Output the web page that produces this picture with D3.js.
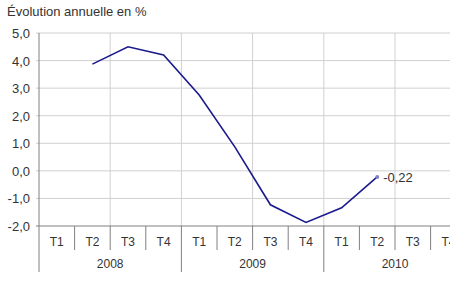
<!DOCTYPE html>
<html>
<head>
<meta charset="utf-8">
<script src="https://cdn.jsdelivr.net/npm/d3@7"></script>
<style>
  body { margin: 0; background: #fff; }
  text { font-family: "Liberation Sans", Arial, sans-serif; fill: #333; }
</style>
</head>
<body>
<div id="chart"></div>
<script>
    var years = ["2008", "2009", "2010"];
    var quarters = ["T1", "T2", "T3", "T4"];
    // annual change, null where no value
    var values = [null, 3.87, 4.5, 4.2, 2.75, 0.87, -1.23, -1.87, -1.34, -0.22, null, null];
    var yTicks = [5, 4, 3, 2, 1, 0, -1, -2];

    var w = 450, h = 291;
    var plotLeft = 39, plotTop = 33, plotBottom = 226;
    var catW = 35.6;

    var cats = [];
    years.forEach(function(y) {
        quarters.forEach(function(q) { cats.push(y + "-" + q); });
    });

    var xScale = d3.scaleBand()
        .domain(cats)
        .range([plotLeft, plotLeft + catW * cats.length]);

    var yScale = d3.scaleLinear()
        .domain([-2, 5])
        .range([plotBottom, plotTop]);

    var svg = d3.select("#chart").append("svg")
        .attr("width", w)
        .attr("height", h);

    svg.append("text")
        .attr("x", 7)
        .attr("y", 16)
        .style("font-size", "13px")
        .text("Évolution annuelle en %");

    // horizontal grid
    svg.selectAll("line.hgrid")
        .data(yTicks.filter(function(d) { return d > -2; }))
        .enter().append("line")
        .attr("class", "hgrid")
        .attr("x1", plotLeft - 3)
        .attr("x2", w)
        .attr("y1", function(d) { return yScale(d); })
        .attr("y2", function(d) { return yScale(d); })
        .style("stroke", "#d0d0d0")
        .style("stroke-width", 1);

    // vertical grid every two quarters
    svg.selectAll("line.vgrid")
        .data(cats.filter(function(d, i) { return i > 0 && i % 2 === 0; }))
        .enter().append("line")
        .attr("class", "vgrid")
        .attr("x1", function(d) { return xScale(d); })
        .attr("x2", function(d) { return xScale(d); })
        .attr("y1", plotTop)
        .attr("y2", plotBottom)
        .style("stroke", "#d0d0d0")
        .style("stroke-width", 1);

    // y labels
    svg.selectAll("text.ylab")
        .data(yTicks)
        .enter().append("text")
        .attr("class", "ylab")
        .attr("x", 30)
        .attr("y", function(d) { return yScale(d) + 5; })
        .attr("text-anchor", "end")
        .style("font-size", "13px")
        .text(function(d) { return d3.format(".1f")(d).replace(".", ",").replace("−", "-"); });

    // axes
    svg.append("line")
        .attr("x1", plotLeft - 3).attr("x2", w)
        .attr("y1", plotBottom).attr("y2", plotBottom)
        .style("stroke", "#808080");

    svg.append("line")
        .attr("x1", plotLeft).attr("x2", plotLeft)
        .attr("y1", plotTop).attr("y2", plotBottom)
        .style("stroke", "#808080");

    // quarter separators
    svg.selectAll("line.qtick")
        .data(cats)
        .enter().append("line")
        .attr("class", "qtick")
        .attr("x1", function(d) { return xScale(d); })
        .attr("x2", function(d) { return xScale(d); })
        .attr("y1", plotBottom)
        .attr("y2", function(d, i) { return i % 4 === 0 ? 272 : 250; })
        .style("stroke", "#808080");

    svg.selectAll("text.qlab")
        .data(cats)
        .enter().append("text")
        .attr("class", "qlab")
        .attr("x", function(d) { return xScale(d) + xScale.bandwidth() / 2; })
        .attr("y", 246)
        .attr("text-anchor", "middle")
        .style("font-size", "12px")
        .text(function(d) { return d.split("-")[1]; });

    svg.selectAll("text.yrlab")
        .data(years)
        .enter().append("text")
        .attr("class", "yrlab")
        .attr("x", function(d) { return xScale(d + "-T1") + catW * 2; })
        .attr("y", 268)
        .attr("text-anchor", "middle")
        .style("font-size", "12px")
        .text(function(d) { return d; });

    var pts = cats.map(function(c, i) { return { c: c, v: values[i] }; });

    var line = d3.line()
        .defined(function(d) { return d.v !== null; })
        .x(function(d) { return xScale(d.c) + xScale.bandwidth() / 2; })
        .y(function(d) { return yScale(d.v); });

    svg.append("path")
        .datum(pts)
        .attr("d", line)
        .style("fill", "none")
        .style("stroke", "#1a1a8c")
        .style("stroke-width", 1.6);

    var last = pts.filter(function(d) { return d.v !== null; }).pop();

    svg.append("circle")
        .attr("cx", xScale(last.c) + xScale.bandwidth() / 2)
        .attr("cy", yScale(last.v))
        .attr("r", 2)
        .style("fill", "#8080d0");

    svg.append("text")
        .attr("x", xScale(last.c) + xScale.bandwidth() / 2 + 6)
        .attr("y", yScale(last.v) + 5)
        .style("font-size", "13px")
        .text(String(last.v).replace(".", ","));
</script>
</body>
</html>
